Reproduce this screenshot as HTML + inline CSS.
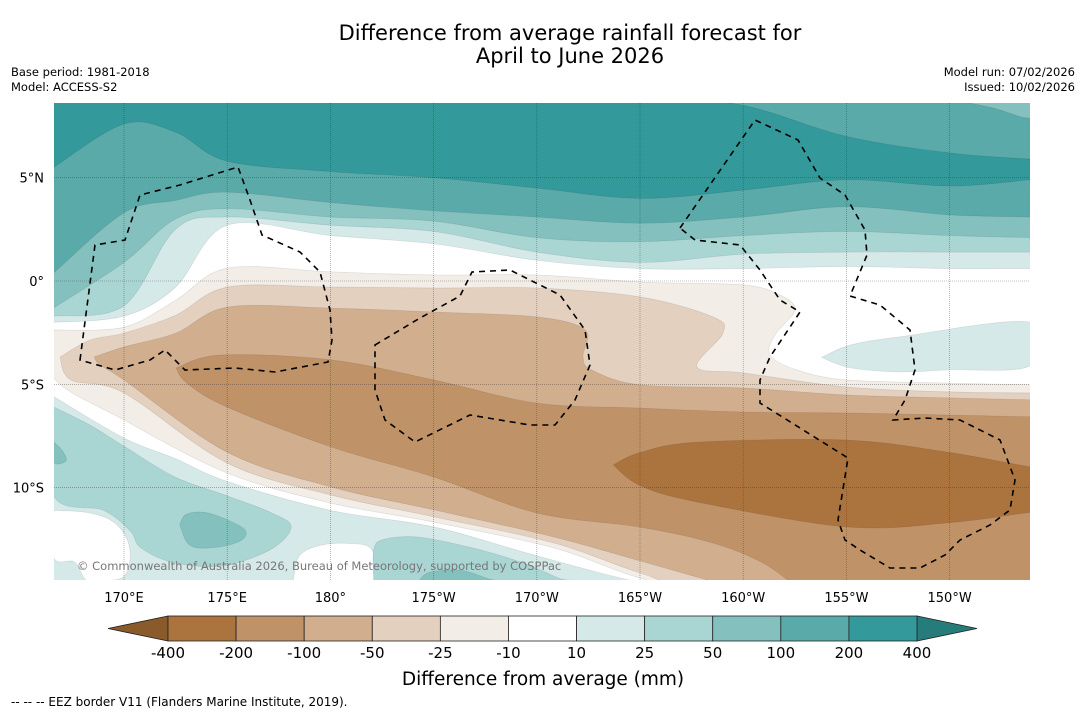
<!DOCTYPE html>
<html><head><meta charset="utf-8">
<style>
html,body{margin:0;padding:0;background:#fff;}
body{width:1085px;height:713px;position:relative;overflow:hidden;font-family:"DejaVu Sans","Liberation Sans",sans-serif;color:#000;}
.t{position:absolute;white-space:nowrap;}
</style></head>
<body>
<div class="t" style="left:0;width:1140px;top:22px;text-align:center;font-size:21px;line-height:23px;">Difference from average rainfall forecast for<br>April to June 2026</div>
<div class="t" style="left:11px;top:65px;font-size:11.5px;line-height:15px;">Base period: 1981-2018<br>Model: ACCESS-S2</div>
<div class="t" style="right:10px;top:65px;font-size:11.5px;line-height:15px;text-align:right;">Model run: 07/02/2026<br>Issued: 10/02/2026</div>
<svg id="map" width="1085" height="713" style="position:absolute;left:0;top:0;" xmlns="http://www.w3.org/2000/svg">
<defs><clipPath id="mc"><rect x="54" y="103" width="976" height="477"/></clipPath></defs>
<g id="bands" clip-path="url(#mc)"></g>
<g id="grid" clip-path="url(#mc)"></g>
<g id="eez" clip-path="url(#mc)" fill="none" stroke="#000" stroke-width="1.6" stroke-dasharray="6,5">
<path d="M80,360 L95,245 L125,240 L140,195 L180,185 L238,167 L250,200 L262,235 L300,252 L320,272 L330,310 L332,340 L328,362 L275,372 L235,368 L185,370 L165,350 L150,360 L115,370 Z"/>
<path d="M375,345 L420,318 L460,296 L472,272 L510,270 L560,295 L585,330 L590,365 L575,400 L555,425 L530,425 L470,415 L415,442 L385,420 L375,390 Z"/>
<path d="M680,228 L755,120 L798,140 L820,178 L845,195 L865,230 L867,255 L850,296 L880,305 L910,330 L915,370 L905,400 L893,420 L925,418 L960,420 L1000,440 L1015,480 L1010,510 L990,525 L960,540 L945,555 L920,568 L890,568 L860,550 L845,540 L838,520 L848,458 L760,403 L760,380 L770,357 L800,312 L780,300 L760,270 L740,245 L695,240 Z"/>
</g>
<text x="77" y="570" font-size="11.5" fill="#777" font-family="DejaVu Sans, Liberation Sans, sans-serif">© Commonwealth of Australia 2026, Bureau of Meteorology, supported by COSPPac</text>
<g id="axes" font-size="13" font-family="DejaVu Sans, Liberation Sans, sans-serif"></g>
<g id="cbar" font-size="15" font-family="DejaVu Sans, Liberation Sans, sans-serif"></g>
<text x="543" y="685" text-anchor="middle" font-size="18.5" font-family="DejaVu Sans, Liberation Sans, sans-serif">Difference from average (mm)</text>
<text x="11" y="706" font-size="12" font-family="DejaVu Sans, Liberation Sans, sans-serif">--  --  -- EEZ border V11 (Flanders Marine Institute, 2019).</text>
</svg>
<script>
// ---- data ----
const lonCols=[166.6,170,172.5,175,180,185,190,195,200,205,210,213.9];
const b0=[9,9,9,9,9,9,9,9,8.5,7.0,6.2,5.9];
const b1=[5.5,7.6,7.2,5.8,5.3,5.0,4.5,4.0,4.4,4.9,4.6,4.9];
const b2=[0.4,3.3,3.9,4.3,3.8,3.4,3.1,2.8,3.1,3.6,3.2,3.1];
const b3=[-1.3,0.9,3.0,3.5,3.1,2.9,2.1,1.9,2.2,2.4,2.2,2.1];
const b4=[-1.7,-1.2,2.5,3.1,2.7,2.4,1.4,0.9,1.3,1.4,1.4,1.4];
const b5=[-2.0,-1.7,-0.3,2.7,2.2,1.8,1.0,0.6,0.6,0.7,0.6,0.6];
const b16=[-5.6,-7.6,-8.6,-9.7,-11.1,-11.9,-13.3,-14.6,-15.5,-15.5,-15.5,-15.5];
// brown anomaly regions (closed outlines, lon/lat)
const m25Lon=[166.61,170,172.52,175.04,180.03,185.02,190.01,195.0,199.99,201.78,202.51,201.54,201.30,202.61,205.03,210.02,214.38,215.5,215.5,199.84,195.0,190.83,185.02,180.03,174.99,170,166.61];
const m25Lat=[-2.37,-2.23,-0.92,0.63,0.44,0.29,0.29,-0.05,-0.19,-0.68,-1.40,-2.61,-3.58,-4.31,-4.79,-4.94,-5.03,-5.03,-16.5,-15.44,-14.38,-12.92,-11.67,-10.75,-9.29,-6.73,-4.70];
const m50Lon=[166.90,168.35,170,172.52,175.04,180.03,185.02,190.01,195.0,198.54,199.02,197.76,199.99,205.03,210.02,214.38,215.5,215.5,199.84,195.0,190.83,185.02,180.03,174.99,170,167.43];
const m50Lat=[-3.68,-2.86,-2.52,-1.65,-0.29,-0.29,-0.34,-0.34,-0.77,-1.74,-2.52,-4.16,-4.45,-5.13,-5.37,-5.42,-5.42,-16.5,-15.44,-14.13,-12.68,-11.42,-10.36,-8.81,-5.42,-4.79];
const m100Lon=[168.55,170,172.52,175.04,180.03,185.02,190.01,192.34,192.24,192.67,195.0,199.99,205.03,210.02,214.38,215.5,215.5,201.78,199.99,195.0,190.83,185.02,180.03,174.99,170,168.84];
const m100Lat=[-3.68,-3.19,-2.52,-1.26,-1.31,-1.50,-1.74,-2.37,-3.68,-4.31,-5.03,-5.18,-5.52,-5.66,-5.76,-5.76,-16.5,-15.44,-14.96,-13.55,-12.39,-11.08,-9.97,-8.28,-4.79,-4.07];
const m200Lon=[172.52,174.70,180.03,185.02,190.01,195.0,199.99,205.03,210.02,214.38,215.5,215.5,203.24,202.75,200.96,198.54,195.0,190.01,185.02,180.03,174.99,173.05];
const m200Lat=[-4.21,-3.58,-3.82,-4.79,-5.91,-6.15,-6.34,-6.39,-6.49,-6.58,-6.58,-16.5,-15.44,-14.96,-13.65,-12.68,-11.91,-11.23,-9.49,-8.03,-6.10,-4.94];
const m400Lon=[193.7,195.0,197.8,205.0,210.0,213.9,214.4,214.4,213.9,210.0,205.0,197.8,195.0];
const m400Lat=[-8.9,-8.3,-7.8,-7.7,-8.3,-9.0,-9.0,-11.2,-11.2,-11.7,-11.9,-10.7,-9.9];
// wet / neutral blobs
const blobC25SouthLon=[166.6,168.4,170,172.5,175,177.1,178.1,177.1,174.7,172.3,170.8,170.3,169.0,166.6];
const blobC25SouthLat=[-6.1,-7.0,-8.0,-9.5,-10.4,-11.2,-11.9,-13.0,-13.8,-13.6,-12.9,-12.1,-11.1,-10.4];
const blobC50SouthLon=[172.7,173.0,173.9,175.1,175.9,175.6,174.4,173.2];
const blobC50SouthLat=[-11.8,-11.3,-11.2,-11.6,-12.1,-12.6,-12.9,-12.8];
const blobC50EdgeLon=[166.6,167.0,167.2,166.6];
const blobC50EdgeLat=[-7.8,-8.2,-8.7,-8.8];
const blobWhiteLeftLon=[166.6,168.2,169.4,170.1,170.3,170.0,169.2,168.2,167.6,166.6];
const blobWhiteLeftLat=[-11.1,-11.2,-11.6,-12.4,-13.4,-14.3,-14.5,-14.5,-13.6,-13.4];
const blobWhiteMidLon=[178.2,178.5,179.5,180.9,182.0,182.0];
const blobWhiteMidLat=[-14.5,-13.3,-12.8,-12.7,-13.0,-14.5];
const blobC25MidLon=[182.1,182.1,182.6,184.3,186.8,189.2,191.1,191.4];
const blobC25MidLat=[-14.5,-13.0,-12.5,-12.4,-12.9,-13.6,-14.4,-14.5];
const blobC50MidLon=[184.3,184.8,186.3,187.6,187.7];
const blobC50MidLat=[-14.5,-14.1,-14.0,-14.4,-14.5];
const blobC10EastLon=[203.8,205.2,207.6,213.9,213.9,210.0,207.6,205.2];
const blobC10EastLat=[-3.7,-3.1,-2.7,-2.0,-4.1,-4.3,-4.4,-4.2];
const blobC50NELon=[209.0,212.0,213.9,213.9];
const blobC50NELat=[9,8.4,7.9,9];
const cbLevels=['-400','-200','-100','-50','-25','-10','10','25','50','100','200','400'];
const lonTicks=[170,175,180,185,190,195,200,205,210];
const lonTickLabels=['170°E','175°E','180°','175°W','170°W','165°W','160°W','155°W','150°W'];
const latTicks=[5,0,-5,-10];
const latTickLabels=['5°N','0°','5°S','10°S'];
// ---- scales ----
const C={m400:'#ab743f',m200:'#c09268',m100:'#d1ae8e',m50:'#e3d0bf',m25:'#f2ede7',w:'#ffffff',c10:'#d5e9e8',c25:'#a9d5d3',c50:'#84c0be',c100:'#5aaaa9',c200:'#33999a'};
const cbColors=[C.m400,C.m200,C.m100,C.m50,C.m25,C.w,C.c10,C.c25,C.c50,C.c100,C.c200];
const X=lon=>124+(lon-170)*20.64;
const Y=lat=>281-lat*20.66;
const NS='http://www.w3.org/2000/svg';
function mk(tag,attrs,parent){const e=document.createElementNS(NS,tag);for(const k in attrs)e.setAttribute(k,attrs[k]);parent.appendChild(e);return e;}
function spline(pts){
  let d='M'+pts[0][0].toFixed(1)+','+pts[0][1].toFixed(1);
  for(let i=0;i<pts.length-1;i++){
    const p0=pts[Math.max(0,i-1)],p1=pts[i],p2=pts[i+1],p3=pts[Math.min(pts.length-1,i+2)];
    const c1=[p1[0]+(p2[0]-p0[0])/6,p1[1]+(p2[1]-p0[1])/6];
    const c2=[p2[0]-(p3[0]-p1[0])/6,p2[1]-(p3[1]-p1[1])/6];
    d+=' C'+c1.map(v=>v.toFixed(1)).join(',')+' '+c2.map(v=>v.toFixed(1)).join(',')+' '+p2[0].toFixed(1)+','+p2[1].toFixed(1);
  }
  return d;
}
const bands=document.getElementById('bands');
const base=mk('rect',{x:54,y:103,width:976,height:477,fill:C.c100},bands);


const layers=[[b0,'c200'],[b1,'c100'],[b2,'c50'],[b3,'c25'],[b4,'c10'],[b5,'w'],[b16,'c10']];
layers.forEach((L,i)=>{
  const pts=lonCols.map((lo,j)=>[X(lo),Y(L[0][j])]);
  const d=spline(pts)+' L1040,600 L40,600 Z';
  const p=mk('path',{d:d,fill:C[L[1]],stroke:'rgba(0,0,0,0.1)','stroke-width':0.7},bands);
  
  
});
function blob(lons,lats,col,name){
  const pts=lons.map((lo,j)=>[X(lo),Y(lats[j])]);
  pts.push(pts[0]);
  const p=mk('path',{d:spline(pts)+' Z',fill:C[col],stroke:'rgba(0,0,0,0.1)','stroke-width':0.7},bands);
  
  
}
blob(blobC25SouthLon,blobC25SouthLat,'c25','rain-blob-south-25');
blob(blobC50SouthLon,blobC50SouthLat,'c50','rain-blob-south-50');
blob(blobC50EdgeLon,blobC50EdgeLat,'c50','rain-blob-edge-50');
blob(blobWhiteLeftLon,blobWhiteLeftLat,'w','rain-blob-left-neutral');
blob(blobWhiteMidLon,blobWhiteMidLat,'w','rain-blob-mid-neutral');
blob(blobC25MidLon,blobC25MidLat,'c25','rain-blob-mid-25');
blob(blobC50MidLon,blobC50MidLat,'c50','rain-blob-mid-50');
blob(blobC50NELon,blobC50NELat,'c50','rain-blob-northeast-50');
blob(m25Lon,m25Lat,'m25','dry-region-25');
blob(m50Lon,m50Lat,'m50','dry-region-50');
blob(m100Lon,m100Lat,'m100','dry-region-100');
blob(m200Lon,m200Lat,'m200','dry-region-200');
blob(m400Lon,m400Lat,'m400','dry-region-400');
blob(blobC10EastLon,blobC10EastLat,'c10','rain-blob-east-10');
// grid and ticks
const grid=document.getElementById('grid'),axes=document.getElementById('axes');
lonTicks.forEach((lo,i)=>{
  const g=mk('line',{x1:X(lo),x2:X(lo),y1:103,y2:580,stroke:'#333','stroke-opacity':0.6,'stroke-width':0.6,'stroke-dasharray':'1,1'},grid);
  
  
  const t=mk('text',{x:X(lo),y:602,'text-anchor':'middle'},axes);
  t.textContent=lonTickLabels[i];
  
  
});
latTicks.forEach((la,i)=>{
  const g=mk('line',{x1:54,x2:1030,y1:Y(la),y2:Y(la),stroke:'#333','stroke-opacity':0.6,'stroke-width':0.6,'stroke-dasharray':'1,1'},grid);
  
  
  const t=mk('text',{x:44,y:Y(la)+5,'text-anchor':'end'},axes);
  t.textContent=latTickLabels[i];
  
  
});
// colorbar
const cb=document.getElementById('cbar');
const cbX0=168,cbW=(917-168)/cbColors.length,cbY=616,cbH=25;
const lt=mk('polygon',{points:`108,${cbY+cbH/2} ${cbX0},${cbY} ${cbX0},${cbY+cbH}`,fill:'#8a5a2b',stroke:'#222','stroke-width':0.8},cb);


const rt=mk('polygon',{points:`977,${cbY+cbH/2} 917,${cbY} 917,${cbY+cbH}`,fill:'#267c7b',stroke:'#222','stroke-width':0.8},cb);


cbColors.forEach((c,i)=>{
  const r=mk('rect',{x:cbX0+i*cbW,y:cbY,width:cbW,height:cbH,fill:c,stroke:'#222','stroke-width':0.8},cb);
  
  
});
cbLevels.forEach((l,i)=>{
  const t=mk('text',{x:cbX0+i*cbW,y:658,'text-anchor':'middle'},cb);
  t.textContent=l;
  
  
});
</script>
</body></html>
